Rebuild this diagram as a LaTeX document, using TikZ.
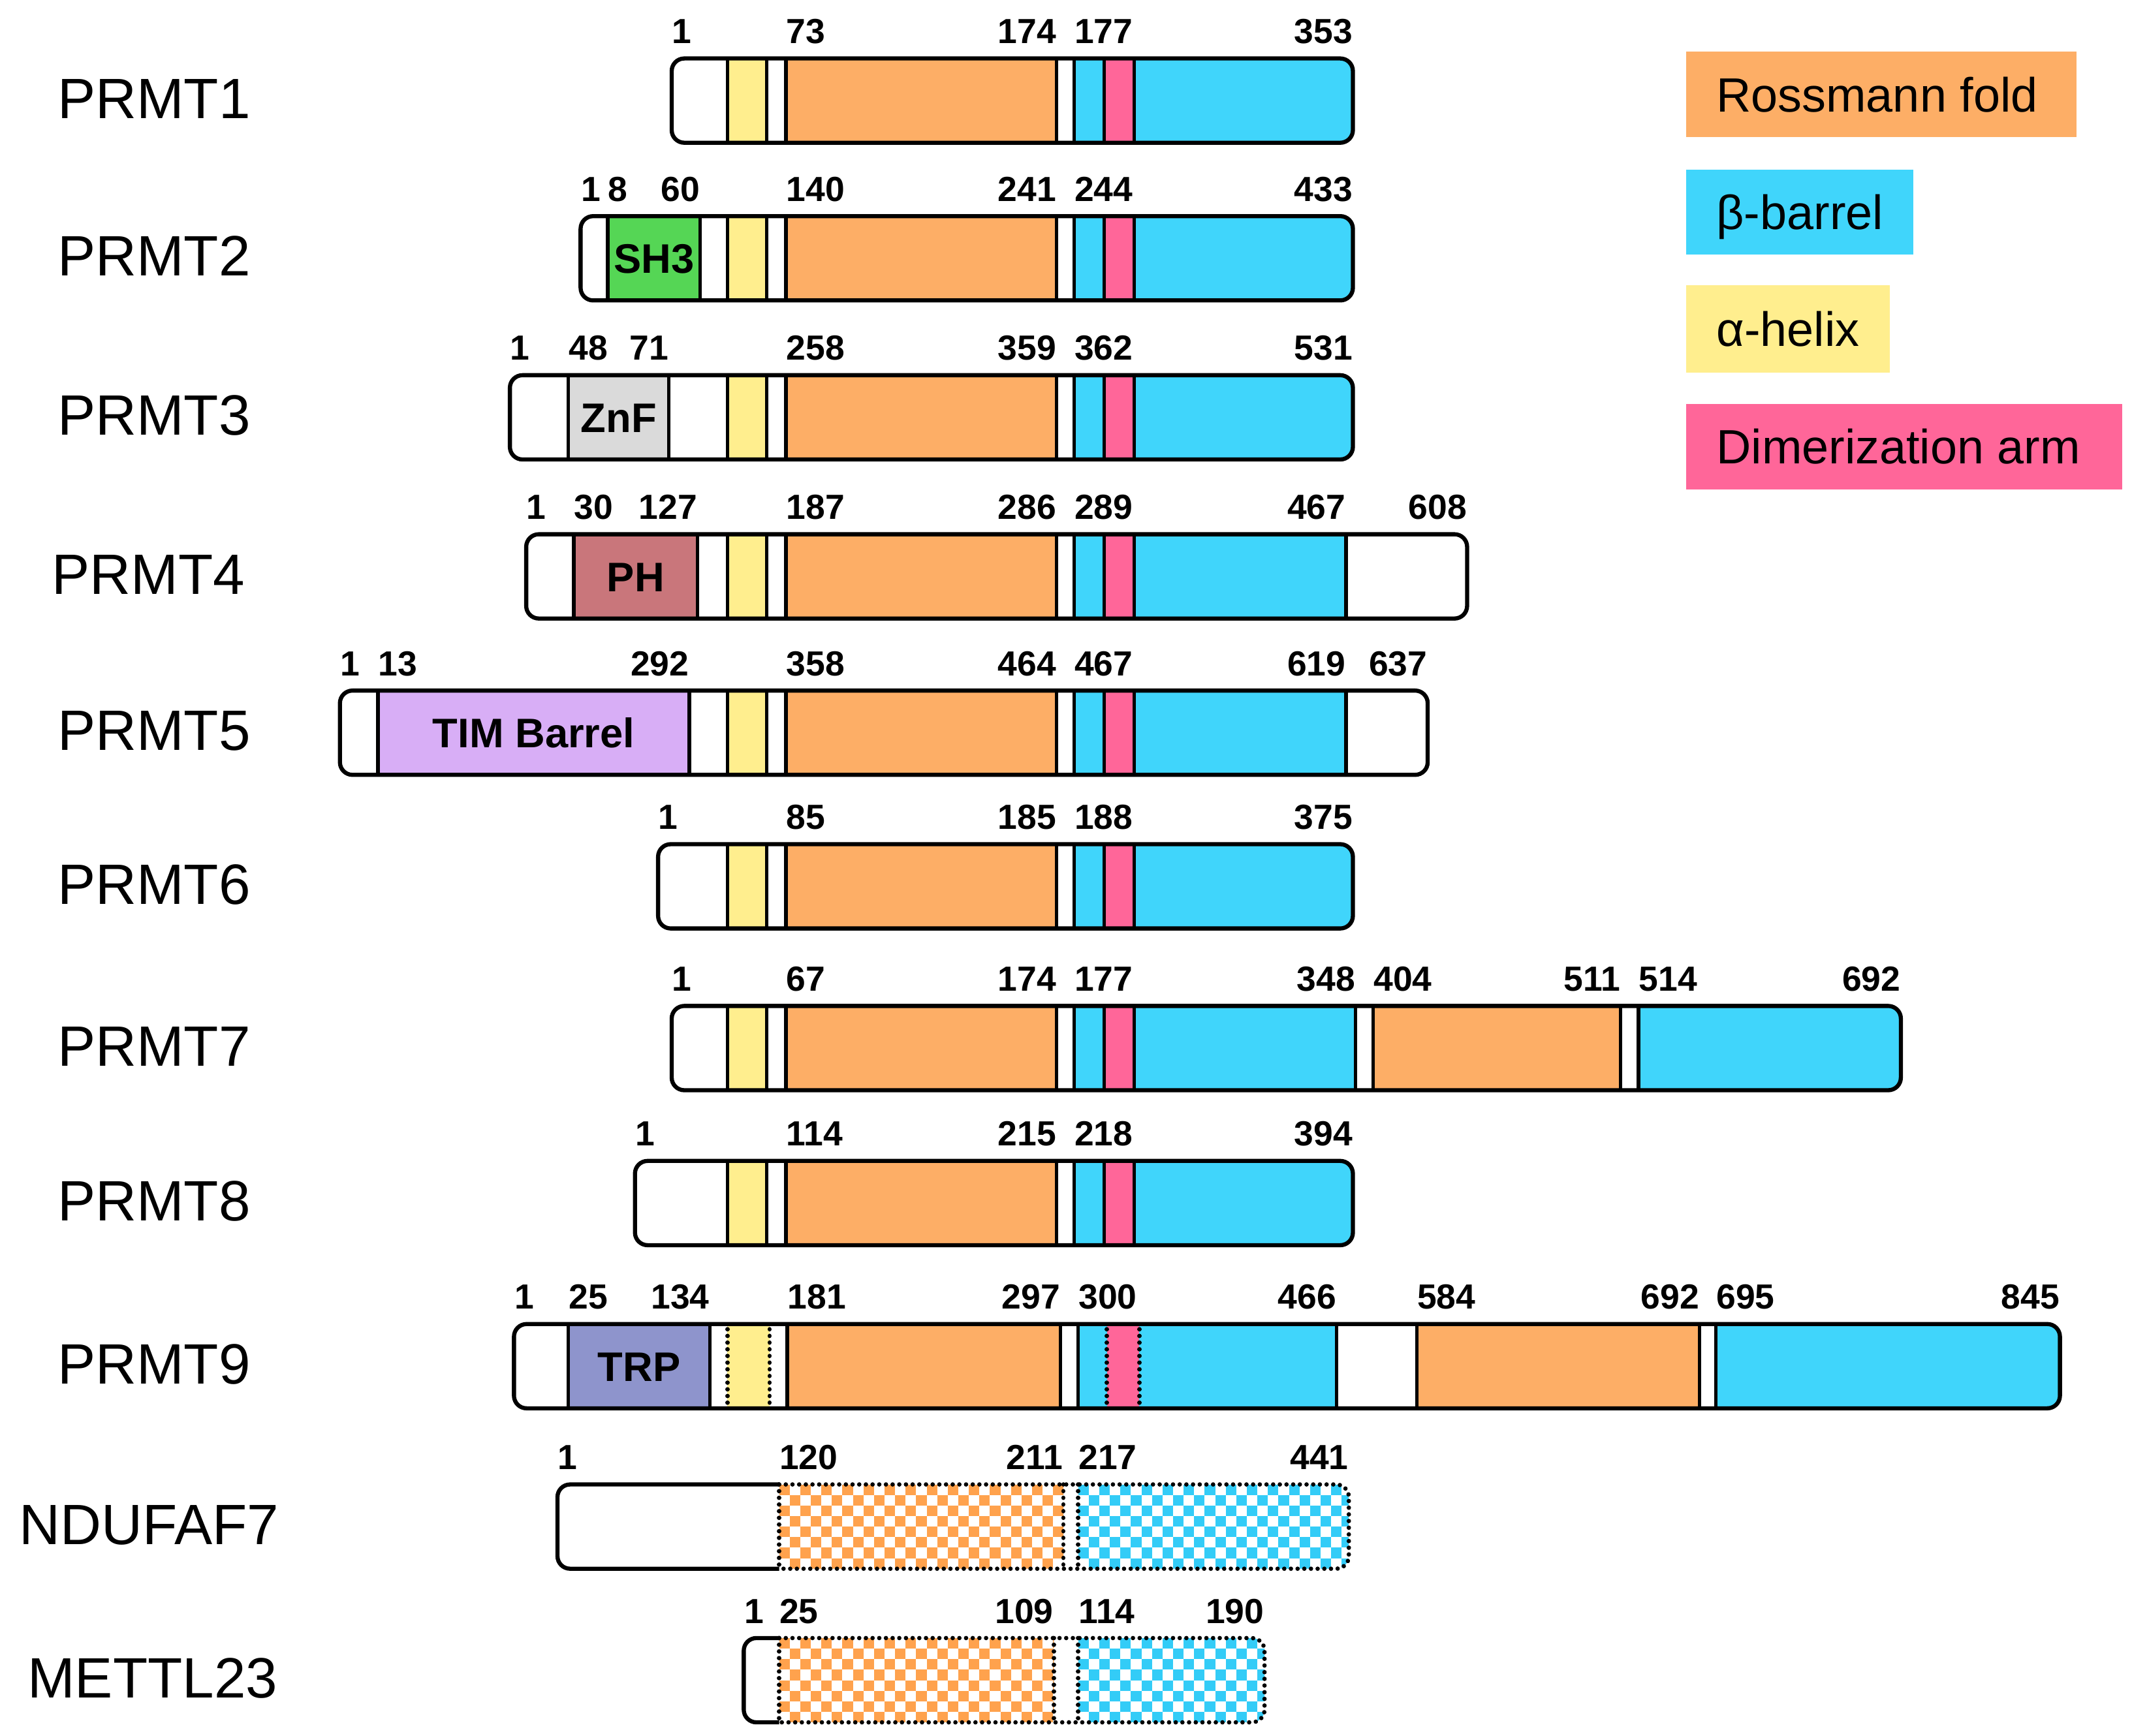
\documentclass[tikz,border=0pt]{standalone}
\usepackage{fontspec}
\setmainfont{Liberation Sans}
\definecolor{rossC}{HTML}{FDAE66}
\definecolor{barC}{HTML}{40D5FB}
\definecolor{helC}{HTML}{FFEE8E}
\definecolor{dimC}{HTML}{FF6699}
\definecolor{sh3C}{HTML}{55D655}
\definecolor{znfC}{HTML}{DADADA}
\definecolor{phC}{HTML}{C9767B}
\definecolor{timC}{HTML}{D8AEF6}
\definecolor{trpC}{HTML}{8E94CC}
\definecolor{chkO}{HTML}{FFA24D}
\definecolor{chkC}{HTML}{33CCF7}
\newcounter{nn}
\tikzset{
  outline/.style={line width=1.8pt, rounded corners=5.5pt},
  segline/.style={line width=1.5pt, draw=black},
  dotline/.style={line width=1.9pt, dash pattern=on 0.01pt off 2.9pt, line cap=round},
  num/.style={inner sep=0pt, font=\fontsize{15.2}{18}\selectfont\bfseries},
  pname/.style={inner sep=0pt, anchor=base west, font=\fontsize{24.8}{30}\selectfont},
  dom/.style={inner sep=0pt, anchor=base, font=\fontsize{18}{22}\selectfont\bfseries},
  leg/.style={inner sep=0pt, anchor=base west, font=\fontsize{21}{25}\selectfont},
}
\newcommand\drawprot[4]{%
  \pgfmathsetmacro\Tt{#1-6}\pgfmathsetmacro\Bb{#1+68}%
  \begin{scope}
    \clip[rounded corners=5.5pt] (#2,#1) rectangle (#3,#1+62);
    \fill[white] (#2,#1) rectangle (#3,#1+62);
    #4
  \end{scope}
  \draw[outline] (#2,#1) rectangle (#3,#1+62);}
\newcommand\sg[3]{\filldraw[segline,fill=#3] (#1,\Tt) rectangle (#2,\Bb);}
\newcommand\core[1]{\sg{535}{564}{helC}\sg{578}{777}{rossC}\sg{790}{#1}{barC}\sg{812}{834}{dimC}}
\newcommand\nL[3]{\stepcounter{nn}\node[num,anchor=base west] (n\arabic{nn}) at (#1,#2-11) {#3};}
\newcommand\nR[3]{\stepcounter{nn}\node[num,anchor=base east] (n\arabic{nn}) at (#1,#2-11) {#3};}
\newcommand\checker[4]{%
  \begin{scope}
    \clip (#1,#3) rectangle (#2,#3+62);
    \foreach \i in {0,...,28}{\foreach \j in {0,...,8}{%
      \pgfmathtruncatemacro\pp{mod(\i+\j,2)}%
      \ifnum\pp=0 \fill[#4] ({#1+\i*7.75},{#3+\j*7.75}) rectangle ++(7.75,7.75);\fi
    }}
  \end{scope}}
\begin{document}
\begin{tikzpicture}[x=0.2083mm,y=-0.2083mm]
\useasboundingbox (0,0) rectangle (1568,1277);

% ---- protein names
\node[pname] (PRMT1) at (42,43+44) {PRMT1};
\node[pname] (PRMT2) at (42,159+44) {PRMT2};
\node[pname] (PRMT3) at (42,276+44) {PRMT3};
\node[pname] (PRMT4) at (38,393+44) {PRMT4};
\node[pname] (PRMT5) at (42,508+44) {PRMT5};
\node[pname] (PRMT6) at (42,621+44) {PRMT6};
\node[pname] (PRMT7) at (42,740+44) {PRMT7};
\node[pname] (PRMT8) at (42,854+44) {PRMT8};
\node[pname] (PRMT9) at (42,974+44) {PRMT9};
\node[pname] (NDUFAF7) at (14,1092+44) {NDUFAF7};
\node[pname] (METTL23) at (20,1205+44) {METTL23};

% ---- PRMT1
\drawprot{43}{494}{995}{\core{1005}}
\nL{494}{43}{1}\nL{578}{43}{73}\nR{777}{43}{174}\nL{790}{43}{177}\nR{995}{43}{353}

% ---- PRMT2
\drawprot{159}{427}{995}{\sg{447}{515}{sh3C}\core{1005}}
\node[dom] (sh3) at (481,159+42) {SH3};
\nL{427}{159}{1}\nL{447}{159}{8}\nR{515}{159}{60}\nL{578}{159}{140}\nR{777}{159}{241}\nL{790}{159}{244}\nR{995}{159}{433}

% ---- PRMT3
\drawprot{276}{375}{995}{\sg{418}{492}{znfC}\core{1005}}
\node[dom] (znf) at (455,276+42) {ZnF};
\nL{375}{276}{1}\nL{418}{276}{48}\nR{492}{276}{71}\nL{578}{276}{258}\nR{777}{276}{359}\nL{790}{276}{362}\nR{995}{276}{531}

% ---- PRMT4
\drawprot{393}{387}{1079}{\sg{422}{513}{phC}\core{990}}
\node[dom] (ph) at (467.5,393+42) {PH};
\nL{387}{393}{1}\nL{422}{393}{30}\nR{513}{393}{127}\nL{578}{393}{187}\nR{777}{393}{286}\nL{790}{393}{289}\nR{990}{393}{467}\nR{1079}{393}{608}

% ---- PRMT5
\drawprot{508}{250}{1050}{\sg{278}{507}{timC}\core{990}}
\node[dom] (tim) at (392.5,508+42) {TIM Barrel};
\nL{250}{508}{1}\nL{278}{508}{13}\nR{507}{508}{292}\nL{578}{508}{358}\nR{777}{508}{464}\nL{790}{508}{467}\nR{990}{508}{619}\nR{1050}{508}{637}

% ---- PRMT6
\drawprot{621}{484}{995}{\core{1005}}
\nL{484}{621}{1}\nL{578}{621}{85}\nR{777}{621}{185}\nL{790}{621}{188}\nR{995}{621}{375}

% ---- PRMT7
\drawprot{740}{494}{1398}{\core{997}\sg{1010}{1192}{rossC}\sg{1205}{1410}{barC}}
\nL{494}{740}{1}\nL{578}{740}{67}\nR{777}{740}{174}\nL{790}{740}{177}\nR{997}{740}{348}\nL{1010}{740}{404}\nR{1192}{740}{511}\nL{1205}{740}{514}\nR{1398}{740}{692}

% ---- PRMT8
\drawprot{854}{467}{995}{\core{1005}}
\nL{467}{854}{1}\nL{578}{854}{114}\nR{777}{854}{215}\nL{790}{854}{218}\nR{995}{854}{394}

% ---- PRMT9
\drawprot{974}{378}{1515}{%
  \sg{418}{522}{trpC}
  \fill[helC] (535,\Tt) rectangle (566,\Bb);
  \draw[dotline] (535,\Tt) -- (535,\Bb) (566,\Tt) -- (566,\Bb);
  \sg{579}{780}{rossC}
  \sg{793}{983}{barC}
  \fill[dimC] (814,\Tt) rectangle (838,\Bb);
  \draw[dotline] (814,\Tt) -- (814,\Bb) (838,\Tt) -- (838,\Bb);
  \sg{1042}{1250}{rossC}
  \sg{1262}{1525}{barC}}
\node[dom] (trp) at (470,974+42) {TRP};
\nL{378}{974}{1}\nL{418}{974}{25}\nR{522}{974}{134}\nL{579}{974}{181}\nR{780}{974}{297}\nL{793}{974}{300}\nR{983}{974}{466}\nL{1042}{974}{584}\nR{1250}{974}{692}\nL{1262}{974}{695}\nR{1515}{974}{845}

% ---- NDUFAF7
\begin{scope}
  \clip[rounded corners=5.5pt] (410,1092) rectangle (992,1154);
  \fill[white] (410,1092) rectangle (992,1154);
  \checker{573}{782}{1092}{chkO}
  \checker{793}{992}{1092}{chkC}
\end{scope}
\draw[outline] (573,1092) -- (410,1092) -- (410,1154) -- (573,1154);
\draw[dotline, rounded corners=5.5pt] (573,1092) -- (992,1092) -- (992,1154) -- (573,1154);
\draw[dotline] (573,1092) -- (573,1154) (782,1092) -- (782,1154) (793,1092) -- (793,1154);
\nL{410}{1092}{1}\nL{573}{1092}{120}\nR{782}{1092}{211}\nL{793}{1092}{217}\nR{992}{1092}{441}

% ---- METTL23
\begin{scope}
  \clip[rounded corners=5.5pt] (547,1205) rectangle (930,1267);
  \fill[white] (547,1205) rectangle (930,1267);
  \checker{573}{775}{1205}{chkO}
  \checker{793}{930}{1205}{chkC}
\end{scope}
\draw[outline] (573,1205) -- (547,1205) -- (547,1267) -- (573,1267);
\draw[dotline, rounded corners=5.5pt] (573,1205) -- (930,1205) -- (930,1267) -- (573,1267);
\draw[dotline] (573,1205) -- (573,1267) (775,1205) -- (775,1267) (793,1205) -- (793,1267);
\nL{547}{1205}{1}\nL{573}{1205}{25}\nR{775}{1205}{109}\nL{793}{1205}{114}\nR{930}{1205}{190}

% ---- legend
\fill[rossC] (1240,38) rectangle (1527,101);
\node[leg] (lg1) at (1262,69.5+12.7) {Rossmann fold};
\fill[barC] (1240,125) rectangle (1407,187);
\node[leg] (lg2) at (1262,156+12.7) {β-barrel};
\fill[helC] (1240,210) rectangle (1390,274);
\node[leg] (lg3) at (1262,242+12.7) {α-helix};
\fill[dimC] (1240,297) rectangle (1561,360);
\node[leg] (lg4) at (1262,328.5+12.7) {Dimerization arm};
\end{tikzpicture}
\end{document}
